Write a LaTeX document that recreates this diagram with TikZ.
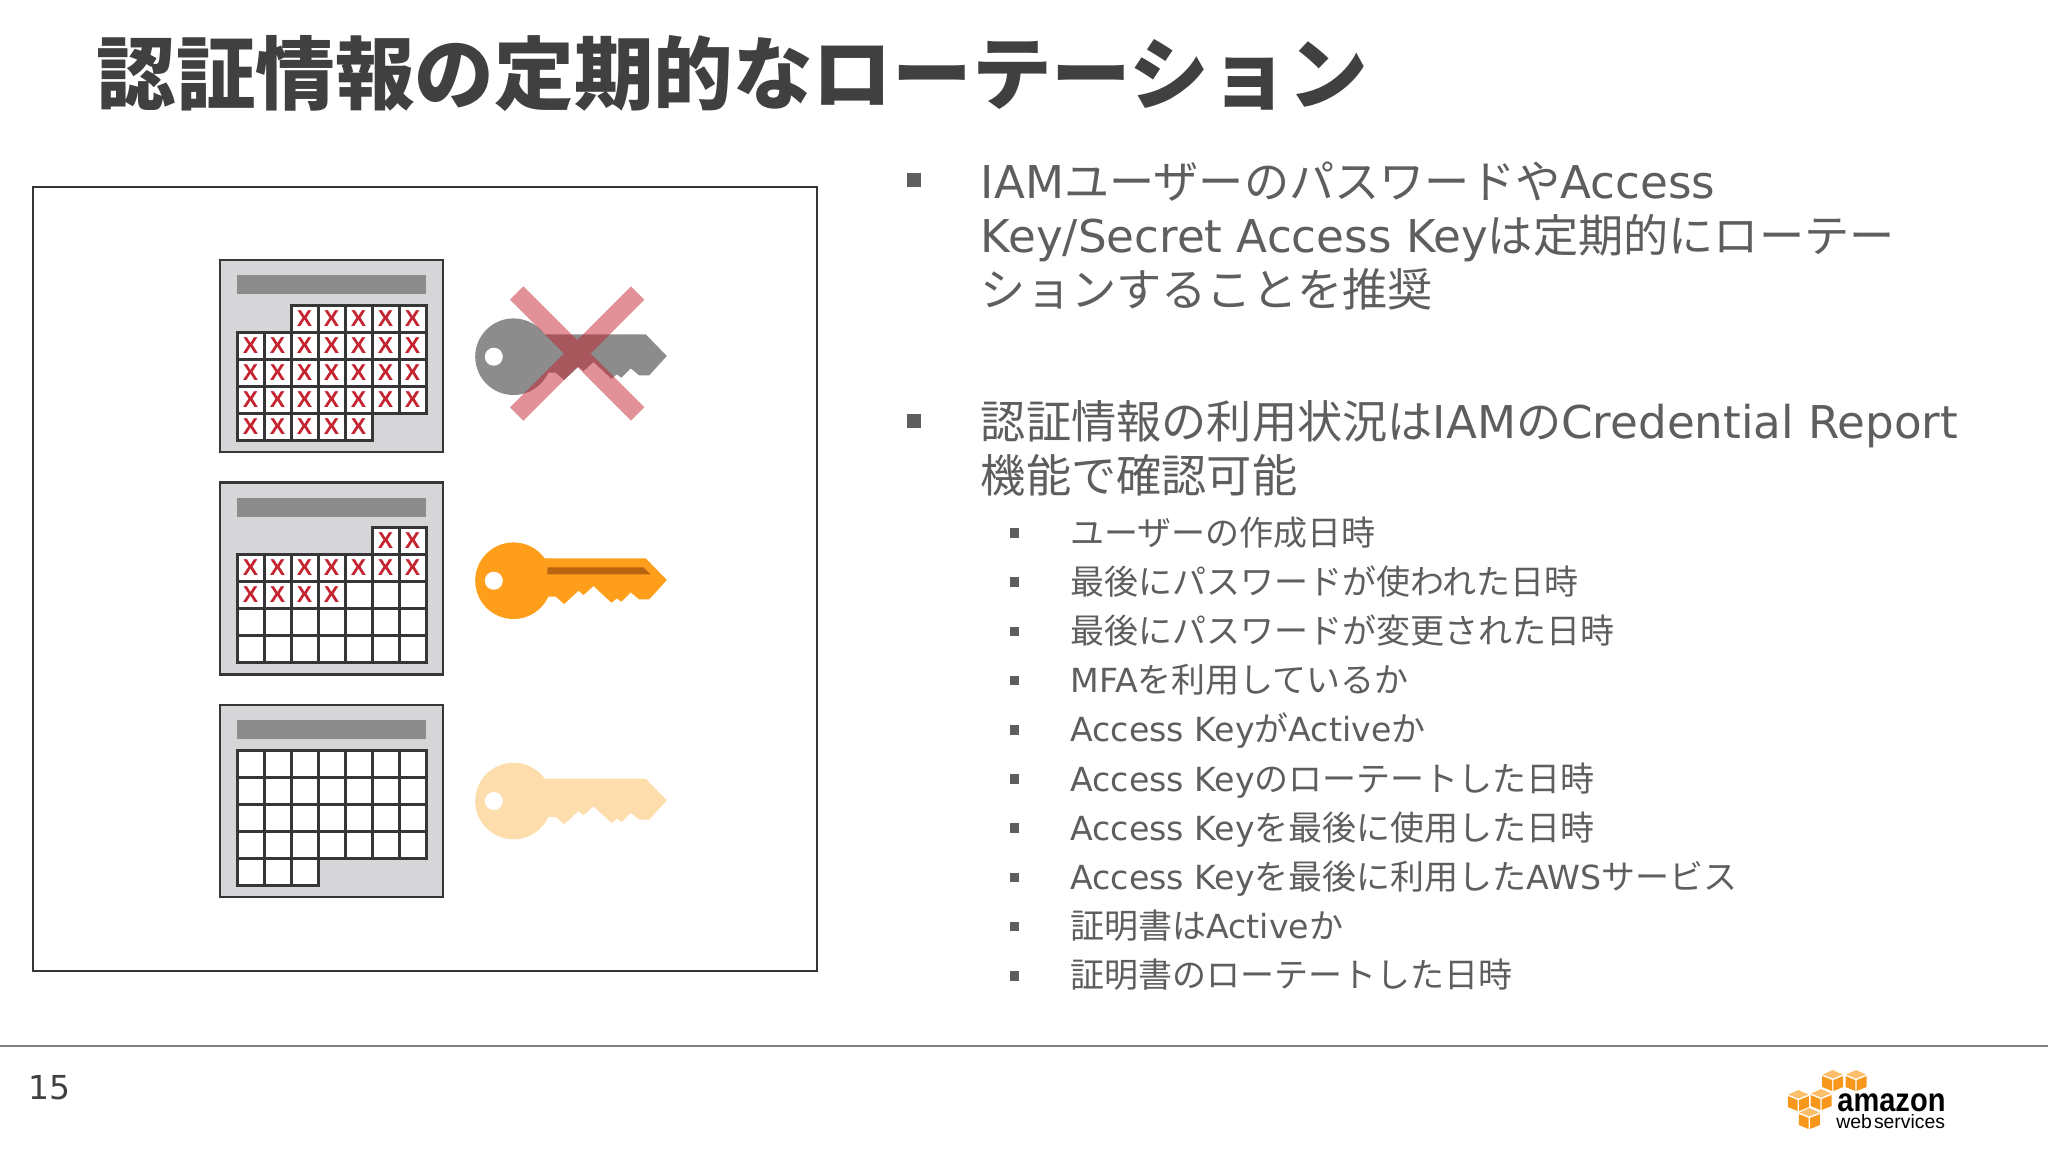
\documentclass[tikz,border=0pt]{standalone}
\usepackage{fontspec}
\setmainfont{DejaVu Sans}
\newfontfamily\jp{Noto Sans CJK JP}
\newfontfamily\jpsub[Scale=1.024]{Noto Sans CJK JP}
\newfontfamily\logofont{Liberation Sans}
\usepackage{tikz}
\usetikzlibrary{positioning}

\definecolor{slidetext}{HTML}{5E5E5E}
\definecolor{titletext}{HTML}{404040}
\definecolor{griddark}{HTML}{363636}
\definecolor{calgray}{HTML}{D6D6D8}
\definecolor{bargray}{HTML}{8C8C8C}
\definecolor{xred}{HTML}{C4232F}
\definecolor{keyorange}{HTML}{FF9E1B}
\definecolor{keyslot}{HTML}{B9650F}
\definecolor{keylight}{HTML}{FEDDAD}
\definecolor{awsorange}{HTML}{F7981D}
\definecolor{awslight}{HTML}{FBBF6B}

\tikzset{
	calcell/.style={
		draw=griddark,
		fill=white,
		line width=1.5pt,
		minimum size=13.5pt,
		inner sep=0pt,
		outer sep=0pt,
		anchor=north west,
		text=xred,
		font=\fontsize{11.5}{10}\selectfont\logofont\bfseries
	},
	calbody/.style={
		draw=griddark,
		fill=calgray,
		line width=1.3pt,
		minimum width=111.5pt,
		minimum height=96pt,
		inner sep=0pt,
		outer sep=0pt,
		anchor=north west
	},
	calbar/.style={
		fill=bargray,
		minimum width=94.5pt,
		minimum height=9.5pt,
		inner sep=0pt,
		anchor=north west
	},
	bigitem/.style={
		anchor=north west,
		inner sep=0pt,
		align=left,
		text=slidetext,
		font=\fontsize{22.6}{27.2}\selectfont
	},
	smallitem/.style={
		anchor=base west,
		inner sep=0pt,
		text=slidetext,
		font=\fontsize{16.6}{20}\selectfont
	},
	bigbullet/.style={fill=slidetext,minimum size=6.8pt,inner sep=0pt},
	smallbullet/.style={fill=slidetext,minimum size=4.8pt,inner sep=0pt}
}

\newcommand{\calrow}[5]{
	\foreach \col in {#3,...,#4} {
		\node[calcell] (#1-#2-\col) at ({237+27*\col},{305+27*#2}) {#5};
	}
}
\newcommand{\keyshape}[3]{
	\begin{scope}[shift={(#1,#2)}]
		\fill[#3] (0,0) circle (38.3);
		\fill[#3] (30,-22.3) -- (132.3,-22.3) -- (153.3,-0.7) -- (135.7,18.7) -- (125.7,18.7)
			-- (117.3,11.7) -- (108,21) -- (103.3,17.7) -- (98,22) -- (80,5.3) -- (70,14.3)
			-- (65,10) -- (50.7,23.3) -- (42.3,16) -- (30,16) -- cycle;
		\fill[white] (-19.7,0) circle (9);
	\end{scope}
}
\newcommand{\awscube}[2]{
	\begin{scope}[shift={(#1,#2)}]
		\fill[awslight] (-10,-5.5) -- (0,-10) -- (10,-5.5) -- (0,-1.5) -- cycle;
		\fill[awsorange] (-10.5,-4) -- (-0.7,0) -- (-0.7,11) -- (-10.5,7) -- cycle;
		\fill[awsorange] (10.5,-4) -- (0.7,0) -- (0.7,11) -- (10.5,7) -- cycle;
	\end{scope}
}

\begin{document}
\begin{tikzpicture}[x=0.5pt,y=-0.5pt]
	\useasboundingbox (0,0) rectangle (2048,1152);

	\node[
		anchor=base west,
		inner sep=0pt,
		text=titletext,
		font=\fontsize{39.8}{40}\selectfont\jp\bfseries
	] (title) at (96,103) {認証情報の定期的なローテーション};

	\node[
		draw=griddark,
		line width=1pt,
		anchor=north west,
		minimum width=392pt,
		minimum height=392pt,
		inner sep=0pt,
		outer sep=0pt
	] (frame) at (33,187) {};

	\node[calbody] (calA) at (220,260) {};
	\node[calbar] (barA) at (237,275) {};
	\calrow{a}{0}{2}{6}{X}
	\calrow{a}{1}{0}{6}{X}
	\calrow{a}{2}{0}{6}{X}
	\calrow{a}{3}{0}{6}{X}
	\calrow{a}{4}{0}{4}{X}

	\begin{scope}[shift={(0,222.5)}]
		\node[calbody] (calB) at (220,260) {};
		\node[calbar] (barB) at (237,275) {};
		\calrow{b}{0}{5}{6}{X}
		\calrow{b}{1}{0}{6}{X}
		\calrow{b}{2}{0}{3}{X}
		\calrow{b}{2}{4}{6}{}
		\calrow{b}{3}{0}{6}{}
		\calrow{b}{4}{0}{6}{}
	\end{scope}

	\begin{scope}[shift={(0,445)}]
		\node[calbody] (calC) at (220,260) {};
		\node[calbar] (barC) at (237,275) {};
		\calrow{c}{0}{0}{6}{}
		\calrow{c}{1}{0}{6}{}
		\calrow{c}{2}{0}{6}{}
		\calrow{c}{3}{0}{6}{}
		\calrow{c}{4}{0}{2}{}
	\end{scope}

	\keyshape{513.5}{356.7}{bargray}
	\draw[draw=xred,line width=9.5pt,opacity=0.5]
		(516.7,293) -- (637.7,414)
		(637.7,293) -- (516.7,414);

	\keyshape{513.5}{580.7}{keyorange}
	\fill[keyslot] (547.4,567.4) -- (643.4,567.4) -- (650.7,574.4) -- (547.4,574.4) -- cycle;

	\keyshape{513.5}{801}{keylight}

	\node[bigbullet] (bulletA) at (914,180) {};
	\node[bigitem] (itemA) at (980.5,161) {
		IAM{\jp ユーザーのパスワードや}Access\\
		Key/Secret Access Key{\jp は定期的にローテー}\\
		{\jp ションすることを推奨}
	};

	\node[bigbullet] (bulletB) at (914,421) {};
	\node[bigitem] (itemB) at (980.5,400) {
		{\jp 認証情報の利用状況は}IAM{\jp の}Credential Report\\
		{\jp 機能で確認可能}
	};

	\foreach \i/\txt in {
		0/{{\jpsub ユーザーの作成日時}},
		1/{{\jpsub 最後にパスワードが使われた日時}},
		2/{{\jpsub 最後にパスワードが変更された日時}},
		3/{MFA{\jpsub を利用しているか}},
		4/{Access Key{\jpsub が}Active{\jpsub か}},
		5/{Access Key{\jpsub のローテートした日時}},
		6/{Access Key{\jpsub を最後に使用した日時}},
		7/{Access Key{\jpsub を最後に利用した}AWS{\jpsub サービス}},
		8/{{\jpsub 証明書は}Active{\jpsub か}},
		9/{{\jpsub 証明書のローテートした日時}}
	} {
		\node[smallbullet] (sub-bullet-\i) at (1014.5,{533+49.2*\i}) {};
		\node[smallitem] (sub-item-\i) at (1070,{545+49.2*\i}) {\txt};
	}

	\draw[gray,line width=1pt] (0,1046) coordinate (ruleL) -- (2048,1046) coordinate (ruleR);

	\node[
		anchor=base west,
		inner sep=0pt,
		text=titletext,
		font=\fontsize{16.5}{20}\selectfont
	] (pagenum) at (28,1099) {15};

	\awscube{1832.7}{1080}
	\awscube{1856}{1080}
	\awscube{1798.3}{1100}
	\awscube{1821}{1099}
	\awscube{1809.3}{1118}
	\node[
		anchor=base west,
		inner sep=0pt,
		xscale=0.88,
		font=\fontsize{16.5}{17}\selectfont\logofont\bfseries
	] (logoA) at (1837,1111) {amazon};
	\node[
		anchor=base west,
		inner sep=0pt,
		font=\fontsize{9.7}{10}\selectfont\logofont
	] (logoB) at (1836,1128) {web\hspace{1pt}services};
\end{tikzpicture}
\end{document}
